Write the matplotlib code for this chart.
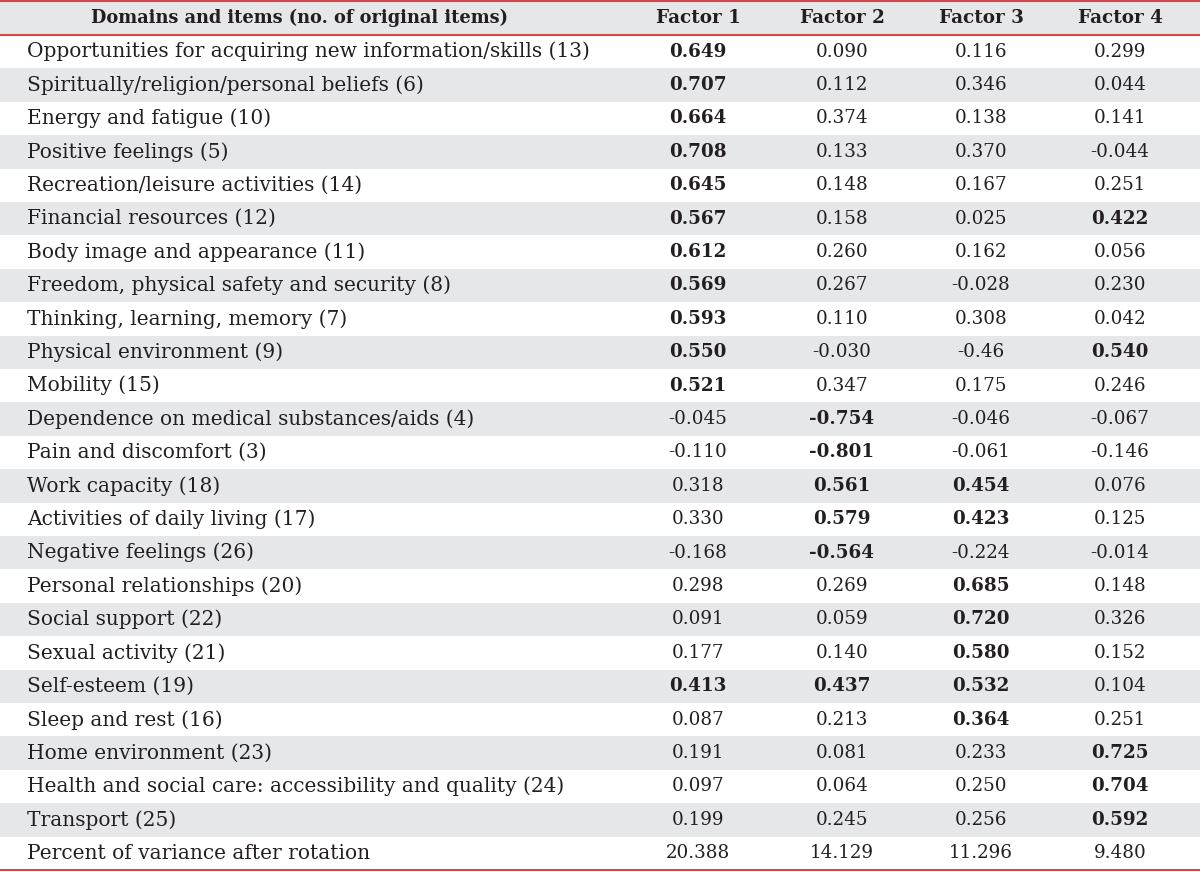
import matplotlib.pyplot as plt
from matplotlib.patches import Rectangle

header = ['Domains and items (no. of original items)', 'Factor 1', 'Factor 2', 'Factor 3', 'Factor 4']

items = [
    'Opportunities for acquiring new information/skills (13)',
    'Spiritually/religion/personal beliefs (6)',
    'Energy and fatigue (10)',
    'Positive feelings (5)',
    'Recreation/leisure activities (14)',
    'Financial resources (12)',
    'Body image and appearance (11)',
    'Freedom, physical safety and security (8)',
    'Thinking, learning, memory (7)',
    'Physical environment (9)',
    'Mobility (15)',
    'Dependence on medical substances/aids (4)',
    'Pain and discomfort (3)',
    'Work capacity (18)',
    'Activities of daily living (17)',
    'Negative feelings (26)',
    'Personal relationships (20)',
    'Social support (22)',
    'Sexual activity (21)',
    'Self-esteem (19)',
    'Sleep and rest (16)',
    'Home environment (23)',
    'Health and social care: accessibility and quality (24)',
    'Transport (25)',
    'Percent of variance after rotation',
]

factor1 = ['0.649', '0.707', '0.664', '0.708', '0.645', '0.567', '0.612', '0.569', '0.593', '0.550',
           '0.521', '-0.045', '-0.110', '0.318', '0.330', '-0.168', '0.298', '0.091', '0.177', '0.413',
           '0.087', '0.191', '0.097', '0.199', '20.388']
factor2 = ['0.090', '0.112', '0.374', '0.133', '0.148', '0.158', '0.260', '0.267', '0.110', '-0.030',
           '0.347', '-0.754', '-0.801', '0.561', '0.579', '-0.564', '0.269', '0.059', '0.140', '0.437',
           '0.213', '0.081', '0.064', '0.245', '14.129']
factor3 = ['0.116', '0.346', '0.138', '0.370', '0.167', '0.025', '0.162', '-0.028', '0.308', '-0.46',
           '0.175', '-0.046', '-0.061', '0.454', '0.423', '-0.224', '0.685', '0.720', '0.580', '0.532',
           '0.364', '0.233', '0.250', '0.256', '11.296']
factor4 = ['0.299', '0.044', '0.141', '-0.044', '0.251', '0.422', '0.056', '0.230', '0.042', '0.540',
           '0.246', '-0.067', '-0.146', '0.076', '0.125', '-0.014', '0.148', '0.326', '0.152', '0.104',
           '0.251', '0.725', '0.704', '0.592', '9.480']

# which loadings are printed in bold (factor index per row)
bold = [{0}, {0}, {0}, {0}, {0}, {0, 3}, {0}, {0}, {0}, {0, 3},
        {0}, {1}, {1}, {1, 2}, {1, 2}, {1}, {2}, {2}, {2}, {0, 1, 2},
        {2}, {3}, {3}, {3}, set()]

W, H = 1200, 872
RED = '#d3474d'
GRAY = '#e6e7e9'
INK = '#231f20'
FONT = 'DejaVu Serif'

fig = plt.figure(figsize=(W / 100, H / 100), dpi=100)
ax = fig.add_axes([0, 0, 1, 1])
ax.set_xlim(0, W)
ax.set_ylim(H, 0)
ax.axis('off')

top, bottom = 1.5, 870.0
row_h = (bottom - top) / (len(items) + 1)
col_x = [698, 842, 981, 1120]
cols = [factor1, factor2, factor3, factor4]

# header
ax.add_patch(Rectangle((0, top), W, row_h, color=GRAY, lw=0))
ax.text(300, top + row_h / 2, header[0], ha='center', va='center',
        fontsize=12.8, fontweight='bold', family=FONT, color=INK)
for x, h in zip(col_x, header[1:]):
    ax.text(x, top + row_h / 2, h, ha='center', va='center',
            fontsize=13.2, fontweight='bold', family=FONT, color=INK)

for i, name in enumerate(items):
    y0 = top + row_h * (i + 1)
    yc = y0 + row_h / 2
    if i % 2 == 1:
        ax.add_patch(Rectangle((0, y0), W, row_h, color=GRAY, lw=0))
    ax.text(27, yc, name, ha='left', va='center', fontsize=14.5, family=FONT, color=INK)
    for j, (x, col) in enumerate(zip(col_x, cols)):
        ax.text(x, yc, col[i], ha='center', va='center', fontsize=13.2, family=FONT,
                fontweight='bold' if j in bold[i] else 'normal', color=INK)

ax.plot([0, W], [top, top], color=RED, lw=1.5)
ax.plot([0, W], [top + row_h, top + row_h], color=RED, lw=1.5)
ax.plot([0, W], [bottom, bottom], color=RED, lw=1.5)

fig.savefig('out.png', dpi=100)
